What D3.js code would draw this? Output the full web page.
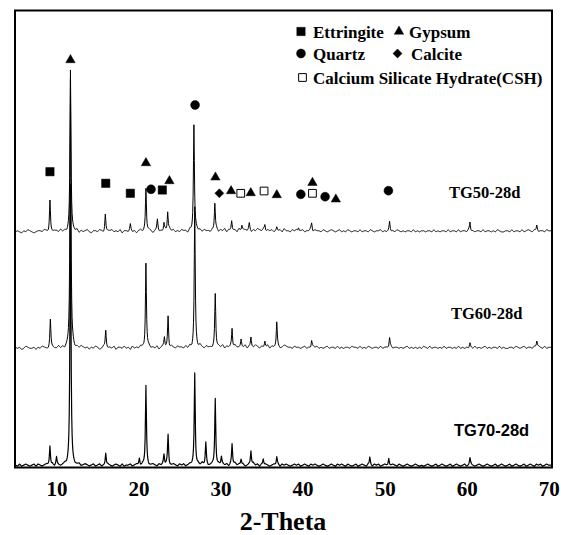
<!DOCTYPE html>
<html><head><meta charset="utf-8">
<script src="https://cdn.jsdelivr.net/npm/d3@7"></script>
<style>body{margin:0;background:#fff}svg{display:block}
.serif{font-family:"Liberation Serif","Times New Roman",serif;font-weight:bold}
.sans{font-family:"Liberation Sans",Arial,sans-serif;font-weight:bold}</style>
</head><body><svg id="c" width="561" height="535"></svg>
<script>
// ---------------- data ----------------
const samples = ["TG50-28d", "TG60-28d", "TG70-28d"];
const offsets = [234.5, 118, 1.2];           // vertical stacking offsets (intensity units)
const xTicks = [10, 20, 30, 40, 50, 60, 70];
const xLabel = "2-Theta";

// peaks: [2θ, height above baseline]
const peaks50 = [[9.2,32],[11.7,161],[15.95,18],[19.0,6],[20.9,43],[22.3,11],[23.1,8],[23.55,20],[26.75,106],[29.3,27],[31.35,10],[32.6,5],[33.5,6],[35.4,6],[36.85,4],[39.5,4],[41.1,7],[50.6,10],[60.4,9],[68.55,6]];
const peaks60 = [[9.25,28],[11.7,270],[16.0,17],[20.9,85],[23.15,10],[23.6,32],[26.85,140],[29.35,53],[31.4,19],[32.5,7],[33.7,10],[35.4,6],[36.85,25],[41.1,7],[50.6,10],[60.4,5],[68.55,6]];
const peaks70 = [[9.2,20],[10.0,7],[11.7,280],[16.0,13],[20.1,7],[20.9,79],[23.1,10],[23.6,30],[26.85,92],[28.2,22],[29.35,67],[30.1,8],[31.4,21],[32.5,6],[33.7,14],[35.2,6],[36.85,8],[48.2,8],[50.5,8],[60.4,7]];

// background noise, one digit per 0.25° from 5° to 70°
const noise50 = ["12102132101221320112","21312012213021231022","13201223121302213120","23121320231213042312","13220312423132213241","32413223142332413243","24132312231422132312","31224132213212321231","21321221312213212231","21212132121221312122","12213121221312213122","13121221312212132112","21312213123213212213","2"].join("");
const noise60 = ["21201321120213210221","13120221302132120213","20132121302213120312","13202312130231203213","22131302314213221323","24132314223241322431","32241322312432213221","23121323121231221312","12213221312132122131","22131221212312121213","21312212131221213121","21213121231212213121","12213212312213232131","2"].join("");
const noise70 = ["10201210120210121020","21012012101201210120","12010210121020112012","10212012102121301210","21201212021312012102","12120213121201213120","21210121202121012120","12102121012101210212","10210120121021021201","21012102101210121010","12101201210120121012","01210121012101201210","12012101201210212012","1"].join("");

// phase markers on TG50: [phase, 2θ, level]
const markers = [["E",9.2,295.8],["G",11.7,407.5],["E",16.0,284.2],["E",19.0,274.2],["G",20.9,304.5],["Q",21.52,278.2],["E",22.9,277.5],["G",23.76,286.5],["Q",26.89,362.5],["G",29.37,290.2],["C",29.85,274.2],["G",31.28,276.5],["S",32.46,274.2],["G",33.68,274.5],["S",35.3,276.5],["G",36.85,272.5],["Q",39.78,273.2],["G",41.2,284.8],["S",41.2,274.2],["Q",42.74,270.8],["G",44.05,268.2],["Q",50.46,276.8]];
const legendItems = [["E","Ettringite"],["G","Gypsum"],["Q","Quartz"],["C","Calcite"],["S","Calcium Silicate Hydrate(CSH)"]];

// ---------------- drawing ----------------
const svg = d3.select("#c");
const L = 15, R = 552, T = 10.5, B = 467.5;
const x = d3.scaleLinear().domain([5, 70.4]).range([15.5, 552]);
const y = d3.scaleLinear().domain([0, 457]).range([B, T]);

svg.append("defs").append("clipPath").attr("id","clip")
  .append("rect").attr("x",L).attr("y",T).attr("width",R-L).attr("height",B-T);

function profile(peaks, noiseStr, base){
  const nz = noiseStr.split("").map(Number);
  const step = 65/(nz.length-1);
  const xs = d3.range(5, 70.41, 0.05);
  peaks.forEach(p => xs.push(p[0]));
  xs.sort((a,b)=>a-b);
  const g = 0.07;
  return xs.map(t => {
    const f = Math.min((t-5)/step, nz.length-1);
    const i = Math.floor(f), fr = f - i;
    const nv = i+1 < nz.length ? nz[i]*(1-fr) + nz[i+1]*fr : nz[i];
    let v = base + nv*1.1;
    peaks.forEach(p => { const d=(t-p[0])/g; v += p[1]/(1+d*d); });
    return [t, v];
  });
}

const line = d3.line().x(d=>x(d[0])).y(d=>y(d[1]));
const allPeaks = [peaks50, peaks60, peaks70];
const allNoise = [noise50, noise60, noise70];
const gTr = svg.append("g").attr("clip-path","url(#clip)");
samples.forEach((s,k)=>{
  gTr.append("path").datum(profile(allPeaks[k], allNoise[k], offsets[k]))
    .attr("d", line).attr("fill","none").attr("stroke","#000")
    .attr("stroke-width", k===2 ? 1.2 : 1).attr("stroke-linejoin","round");
});

// frame
svg.append("rect").attr("x",L).attr("y",T).attr("width",R-L).attr("height",B-T)
  .attr("fill","none").attr("stroke","#000").attr("stroke-width",2);

// x axis labels
const ax = svg.append("g").attr("transform",`translate(0,${B})`)
  .call(d3.axisBottom(x).tickValues(xTicks).tickSize(0).tickPadding(14).tickFormat(d3.format("d")));
ax.select(".domain").remove();
ax.attr("font-family", null).attr("font-size", null);
ax.selectAll("text").attr("class","serif").style("font-size","21px").attr("fill","#000");

svg.append("text").attr("class","serif").attr("x",283).attr("y",530).attr("text-anchor","middle")
  .style("font-size","26px").text(xLabel);

// sample labels
const labelPos = [[449,197.5,"serif"],[451,318.5,"serif"],[454,435.5,"sans"]];
samples.forEach((s,k)=>{
  svg.append("text").attr("class", labelPos[k][2]).attr("x",labelPos[k][0]).attr("y",labelPos[k][1])
    .style("font-size","16.5px").text(s);
});

// markers
function sym(type){
  if(type==="E") return {d:d3.symbol(d3.symbolSquare,70)(), fill:"#000", rot:0};
  if(type==="G") return {d:d3.symbol(d3.symbolTriangle,38)(), fill:"#000", rot:0};
  if(type==="Q") return {d:d3.symbol(d3.symbolCircle,62)(), fill:"#000", rot:0};
  if(type==="C") return {d:d3.symbol(d3.symbolSquare,40)(), fill:"#000", rot:45};
  return {d:d3.symbol(d3.symbolSquare,60)(), fill:"#fff", rot:0};
}
function drawSym(g, type, cx, cy){
  const s = sym(type);
  g.append("path").attr("d", s.d)
    .attr("transform",`translate(${cx},${cy}) rotate(${s.rot})`)
    .attr("fill", s.fill).attr("stroke", "#000").attr("stroke-width", type==="S"?1:0.5);
}
const gm = svg.append("g");
markers.forEach(m => drawSym(gm, m[0], x(m[1]), y(m[2])));

// legend: [symbol x, symbol y, text x]
const legPos = [[301,31.5,313],[399,31.5,409],[301,53.5,313],[397.5,53.5,411],[302.5,77.5,313]];
const gl = svg.append("g");
legendItems.forEach((it,k)=>{
  const [lx,ly,tx] = legPos[k];
  drawSym(gl, it[0], lx, ly);
  gl.append("text").attr("class","serif").attr("x", tx).attr("y", ly+6)
    .style("font-size","17px").text(it[1]);
});
</script></body></html>
